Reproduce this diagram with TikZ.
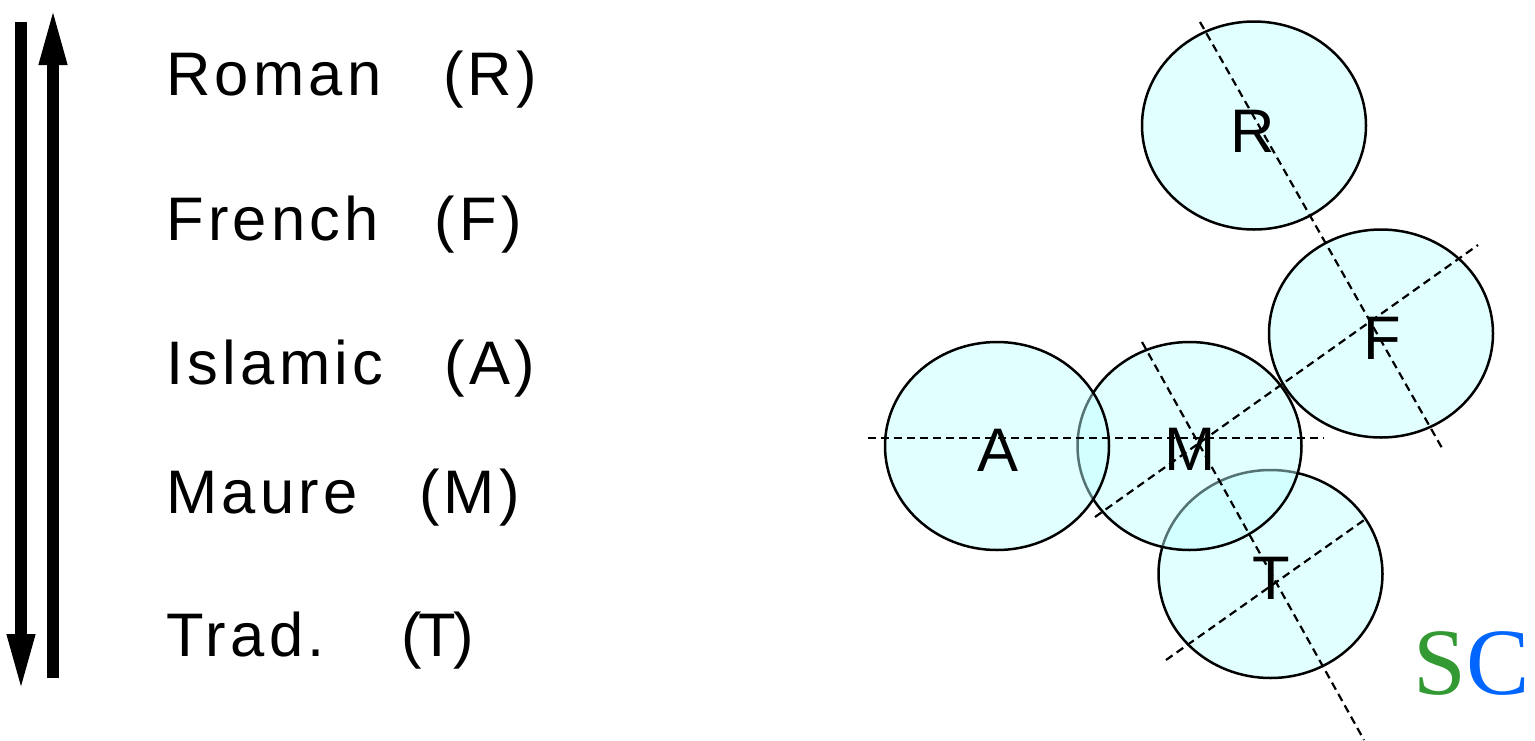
\documentclass[tikz,border=0pt]{standalone}
\usepackage{fontspec}
\setmainfont{Liberation Sans}
\newfontfamily\periodfont[LetterSpace=7]{Liberation Sans}
\newfontfamily\logofont{Liberation Serif}
\usetikzlibrary{arrows.meta,shapes.geometric}
\definecolor{zonefill}{RGB}{190,255,255}
\definecolor{scgreen}{RGB}{51,153,51}
\definecolor{scblue}{RGB}{0,102,255}
\newcommand{\wordgap}{\hspace{1.0em}}
\begin{document}
\begin{tikzpicture}[x=1pt,y=-1pt,
  zone/.style={ellipse, draw=black, line width=2.5pt, fill=zonefill,
    fill opacity=0.45, draw opacity=1, minimum width=224pt,
    minimum height=208pt, inner sep=0pt},
  zonelabel/.style={anchor=base, inner sep=0pt,
    font=\fontsize{61.5}{70}\selectfont},
  period/.style={anchor=base west, inner sep=0pt,
    font=\periodfont\fontsize{61.5}{70}\selectfont},
  axis/.style={draw=black, line width=2.2pt, dash pattern=on 8pt off 5pt},
  bigarrow/.style={line width=12pt, -{Triangle[length=59pt,width=25pt]}}]
\useasboundingbox (0,0) rectangle (1535,740);

% time arrows
\coordinate (downstart) at (21,22);
\coordinate (downend) at (21,693);
\coordinate (upstart) at (53,678);
\coordinate (upend) at (53,6);
\draw[bigarrow] (downstart) -- (downend);
\draw[bigarrow] (upstart) -- (upend);

% periods
\node[period] (pR) at (166,95)  {Roman\wordgap(R)};
\node[period] (pF) at (166,240) {French\hspace{0.9em}(F)};
\node[period] (pA) at (166,384) {Islamic\wordgap(A)};
\node[period] (pM) at (166,513) {Maure\wordgap(M)};
\node[period] (pT) at (166,656) {Trad.\hspace{1.25em}(\kern-0.05em T\kern-0.05em)};

% overlapping zones
\node[zone] (T) at (1270.5,574) {};
\node[zone] (M) at (1189.5,446) {};
\node[zone] (A) at (997,446) {};
\node[zone] (R) at (1254,125.5) {};
\node[zone] (F) at (1381,333.5) {};

% axes through the zones
\coordinate (ax1a) at (1200,22);
\coordinate (ax1b) at (1442,448);
\coordinate (ax2a) at (1142,342);
\coordinate (ax2b) at (1364,740);
\coordinate (ax3a) at (1095,517);
\coordinate (ax3b) at (1478,245);
\coordinate (ax4a) at (1166,660);
\coordinate (ax4b) at (1367,518);
\coordinate (ax5a) at (868,438);
\coordinate (ax5b) at (1324,438);
\draw[axis] (ax1a) -- (ax1b);
\draw[axis] (ax2a) -- (ax2b);
\draw[axis] (ax3a) -- (ax3b);
\draw[axis] (ax4a) -- (ax4b);
\draw[axis] (ax5a) -- (ax5b);

% zone letters
\node[zonelabel] (lR) at (1253,152) {R};
\node[zonelabel] (lF) at (1382,359) {F};
\node[zonelabel] (lA) at (998,471) {A};
\node[zonelabel] (lM) at (1190,470) {M};
\node[zonelabel] (lT) at (1271,599) {T};

% logo
\node[anchor=base west, inner sep=0pt,
  font=\logofont\fontsize{95}{100}\selectfont] (logo) at (1413,694)
  {\textcolor{scgreen}{S}\textcolor{scblue}{C}};
\end{tikzpicture}
\end{document}
